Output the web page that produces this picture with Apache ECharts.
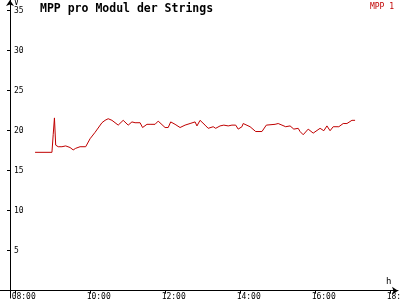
<!DOCTYPE html>
<html><head><meta charset="utf-8">
<script src="https://cdn.jsdelivr.net/npm/echarts@6/dist/echarts.min.js"></script>
<style>html,body{margin:0;padding:0;background:#fff}#c{width:400px;height:300px}</style>
</head><body><div id="c"></div>
<script>
const times = ["08:31","08:58","09:00","09:02","09:04","09:08","09:14","09:20","09:27","09:32","09:36","09:43","09:52","09:59","10:07","10:18","10:23","10:28","10:34","10:44","10:52","11:00","11:06","11:11","11:19","11:23","11:30","11:35","11:43","11:48","11:59","12:04","12:08","12:15","12:18","12:23","12:31","12:39","12:47","12:50","12:55","13:03","13:08","13:11","13:16","13:20","13:27","13:33","13:40","13:46","13:52","13:56","14:02","14:04","14:15","14:24","14:34","14:37","14:41","14:55","15:00","15:06","15:12","15:19","15:25","15:32","15:35","15:40","15:48","15:56","16:07","16:13","16:18","16:23","16:28","16:37","16:44","16:50","16:58","17:03"];
const mpp1 = [17.3,17.3,19.5,21.6,18.2,18.0,18.0,18.1,17.9,17.6,17.8,18.0,18.0,19.0,19.8,21.0,21.3,21.5,21.3,20.7,21.3,20.7,21.1,21.0,21.0,20.4,20.8,20.8,20.8,21.2,20.4,20.4,21.1,20.8,20.9,20.4,20.7,20.9,21.1,20.6,21.3,20.7,20.3,20.1,20.5,20.3,20.6,20.7,20.6,20.7,20.7,20.2,20.5,20.9,20.5,19.9,19.9,20.0,20.7,20.8,20.9,20.7,20.5,20.6,20.2,20.3,19.9,19.5,20.2,19.7,20.3,20.0,20.6,20.0,20.5,20.5,20.9,20.9,21.3,21.3];
const xTicks = [8,10,12,14,16,18];
const yTicks = [5,10,15,20,25,30,35];
const seriesName = "MPP 1";
const titleText = "MPP pro Modul der Strings";
const xUnit = "h";
const yUnit = "V";

const toH = s => { const p = s.split(":"); return +p[0] + (+p[1])/60; };
const data = times.map((t,i)=>[toH(t), mpp1[i]]);
const mono = "DejaVu Sans Mono";
const chart = echarts.init(document.getElementById('c'), null, {renderer:'canvas'});
chart.setOption({
  animation:false,
  backgroundColor:'#fff',
  title:{text:titleText,left:40,top:3,padding:0,textStyle:{fontFamily:mono,fontSize:11.5,fontWeight:'bold',color:'#000'}},
  legend:{data:[{name:seriesName,icon:'none'}],right:6,top:0,padding:0,itemWidth:0,itemGap:0,
    textStyle:{fontFamily:mono,fontSize:8,color:'#c00000',padding:0}},
  graphic:[
    {type:'text',left:386,top:277,style:{text:xUnit,font:'9px "DejaVu Sans Mono"',fill:'#000'}},
    {type:'text',left:14,top:-1,style:{text:yUnit,font:'8px "DejaVu Sans Mono"',fill:'#000'}}
  ],
  grid:{left:0,right:2,top:0,bottom:2,outerBoundsMode:'none'},
  xAxis:{type:'value',min:8-15.7/37.5,max:8+(398-15.7)/37.5,offset:-7.3,
    axisLine:{lineStyle:{color:'#000',width:1},symbol:['none','arrow'],symbolSize:[6,6]},
    axisTick:{customValues:xTicks,length:3,lineStyle:{color:'#000'}},
    axisLabel:{customValues:xTicks,fontFamily:mono,fontSize:8,color:'#000',margin:2,padding:[0,0,0,16],
      hideOverlap:false,alignMinLabel:'center',alignMaxLabel:'center',formatter:v=>String(v).padStart(2,'0')+':00'},
    splitLine:{show:false}},
  yAxis:{type:'value',min:-0.91,max:36.34,offset:-10,
    axisLine:{lineStyle:{color:'#000',width:1},symbol:['none','arrow'],symbolSize:[6,6]},
    axisTick:{customValues:yTicks,length:3,lineStyle:{color:'#000'}},
    axisLabel:{customValues:yTicks,inside:true,fontFamily:mono,fontSize:8,color:'#000',margin:4},
    splitLine:{show:false}},
  series:[{name:seriesName,type:'line',data:data,showSymbol:false,symbol:'none',
    lineStyle:{color:'#c00000',width:1},itemStyle:{color:'#c00000'}}]
});
</script></body></html>
